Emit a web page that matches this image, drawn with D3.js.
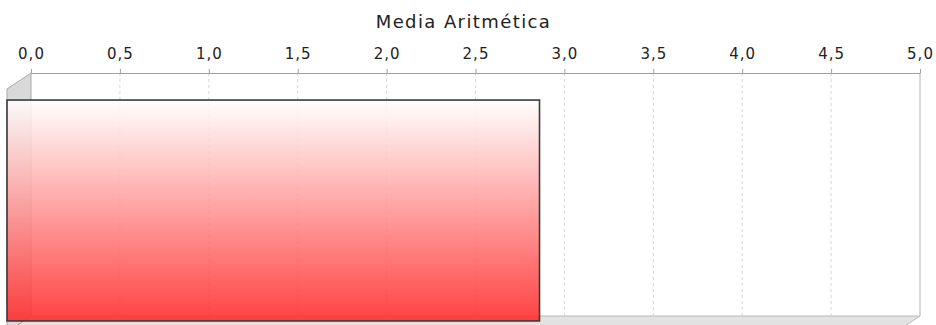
<!DOCTYPE html>
<html>
<head>
<meta charset="utf-8">
<script src="https://cdn.jsdelivr.net/npm/d3@7/dist/d3.min.js"></script>
<style>
  html, body { margin: 0; padding: 0; background: #fff; }
  svg { display: block; }
  text { font-family: "DejaVu Sans", sans-serif; fill: #222; }
</style>
</head>
<body>
<svg id="chart" width="936" height="325"></svg>
<script>
// Data
const categories = ["Media"];
const values = [2.86];
const tickValues = [0, 0.5, 1, 1.5, 2, 2.5, 3, 3.5, 4, 4.5, 5];
const tickLabels = ["0,0", "0,5", "1,0", "1,5", "2,0", "2,5", "3,0", "3,5", "4,0", "4,5", "5,0"];
const axisTitle = "Media Aritmética";

const W = 936, H = 325;
const svg = d3.select("#chart");

// 3D depth offset of the front plane relative to the back plane
const DX = 24, DY = 16;
const backTop = 73, backBottom = 316;

const x = d3.scaleLinear().domain([0, 5]).range([31, 920]);
const y = d3.scaleBand().domain(categories)
  .range([backTop + DY, backBottom + DY])
  .paddingInner(0).paddingOuter(0.05);

const defs = svg.append("defs");
const grad = defs.append("linearGradient")
  .attr("id", "barGrad").attr("x1", 0).attr("y1", 0).attr("x2", 0).attr("y2", 1);
grad.append("stop").attr("offset", "0%").attr("stop-color", "#ffffff");
grad.append("stop").attr("offset", "100%").attr("stop-color", "#ff2828");

const x0 = x(0), x1 = x(5);

// Floor
svg.append("polygon")
  .attr("points", [[x0 - DX, backBottom + DY], [x0, backBottom], [x1, backBottom], [x1 - DX, backBottom + DY]].join(" "))
  .attr("fill", "#e2e2e2").attr("stroke", "#b8b8b8").attr("stroke-width", 1);

// Left wall
svg.append("polygon")
  .attr("points", [[x0 - DX, backTop + DY], [x0, backTop], [x0, backBottom], [x0 - DX, backBottom + DY]].join(" "))
  .attr("fill", "#d9d9d9").attr("stroke", "#a8a8a8").attr("stroke-width", 1);

// Gridlines
svg.append("g").selectAll("line")
  .data(tickValues.filter(v => v > 0 && v < 5))
  .join("line")
  .attr("x1", d => x(d)).attr("x2", d => x(d))
  .attr("y1", backTop).attr("y2", backBottom)
  .attr("stroke", "#d6d6d6").attr("stroke-width", 1)
  .attr("stroke-dasharray", "3,3");

// Right edge of back plane
svg.append("line")
  .attr("x1", x1).attr("x2", x1).attr("y1", backTop).attr("y2", backBottom)
  .attr("stroke", "#b0b0b0").attr("stroke-width", 1);

// Bars
svg.append("g").selectAll("rect")
  .data(categories.map((c, i) => ({ c, v: values[i] })))
  .join("rect")
  .attr("x", x(0) - DX)
  .attr("y", d => y(d.c))
  .attr("width", d => x(d.v) - (x(0) - DX))
  .attr("height", y.bandwidth())
  .attr("fill", "url(#barGrad)")
  .attr("fill-opacity", 0.88)
  .attr("stroke", "#3a3a3a")
  .attr("stroke-width", 1.6);

// Top value axis
const axis = d3.axisTop(x)
  .tickValues(tickValues)
  .tickFormat((d, i) => tickLabels[i])
  .tickSize(4)
  .tickSizeOuter(0)
  .tickPadding(10);
const gAxis = svg.append("g")
  .attr("transform", `translate(0,${backTop})`)
  .call(axis);
gAxis.select(".domain").attr("stroke", "#a0a0a0");
gAxis.selectAll(".tick line").attr("stroke", "#a0a0a0");
gAxis.selectAll(".tick text")
  .attr("font-family", "DejaVu Sans")
  .attr("font-size", 15)
  .attr("letter-spacing", 1)
  .attr("fill", "#222");

// Axis title
svg.append("text")
  .attr("x", (x0 - DX + x1) / 2)
  .attr("y", 28)
  .attr("text-anchor", "middle")
  .attr("font-size", 18)
  .attr("letter-spacing", 1.4)
  .text(axisTitle);
</script>
</body>
</html>
